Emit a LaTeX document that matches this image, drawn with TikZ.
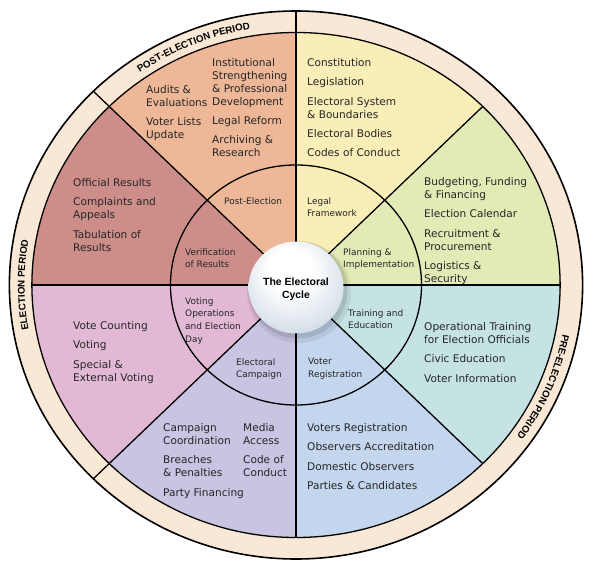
\documentclass[tikz,border=0pt]{standalone}
\usepackage{fontspec}
\setmainfont{DejaVu Sans}
\newfontfamily\arialfam{Liberation Sans}
\usetikzlibrary{decorations.text}
\definecolor{bandcol}{RGB}{250,232,214}
\definecolor{cpost}{RGB}{238,184,152}
\definecolor{cverif}{RGB}{205,142,138}
\definecolor{cvoting}{RGB}{226,185,212}
\definecolor{ccamp}{RGB}{200,196,226}
\definecolor{creg}{RGB}{196,214,238}
\definecolor{ctrain}{RGB}{198,227,227}
\definecolor{cplan}{RGB}{226,235,182}
\definecolor{clegal}{RGB}{250,238,184}
\definecolor{ballblue}{RGB}{178,196,214}
\definecolor{balledge}{RGB}{160,178,198}
\pgfdeclareradialshading{ballshade}{\pgfpoint{-4bp}{12bp}}{color(0bp)=(white); color(12bp)=(white); color(44bp)=(ballblue); color(50bp)=(balledge)}
\newcommand{\bandfmt}{\arialfam\bfseries\fontsize{9.8}{10}\selectfont}
\begin{document}
\begin{tikzpicture}[x=1bp,y=1bp,
  outertxt/.style={anchor=north west, inner sep=0pt, align=left, font=\fontsize{10.6}{13}\selectfont, text=black!85},
  innertxt/.style={anchor=north west, inner sep=0pt, align=left, font=\fontsize{9}{13}\selectfont, text=black!85},
  divline/.style={line width=1.3bp},
  ringline/.style={line width=1.3bp}
]
\useasboundingbox (-296,-283) rectangle (297,285);
\begin{scope}[xscale=1.046]
 \fill[bandcol] (0,0) circle (274);
 \fill[clegal] (0,0) -- (45:252.5) arc (45:90:252.5) -- cycle;
 \fill[cpost] (0,0) -- (90:252.5) arc (90:135:252.5) -- cycle;
 \fill[cverif] (0,0) -- (135:252.5) arc (135:180:252.5) -- cycle;
 \fill[cvoting] (0,0) -- (180:252.5) arc (180:225:252.5) -- cycle;
 \fill[ccamp] (0,0) -- (225:252.5) arc (225:270:252.5) -- cycle;
 \fill[creg] (0,0) -- (270:252.5) arc (270:315:252.5) -- cycle;
 \fill[ctrain] (0,0) -- (315:252.5) arc (315:360:252.5) -- cycle;
 \fill[cplan] (0,0) -- (0:252.5) arc (0:45:252.5) -- cycle;
 \foreach \a in {0,45,180,270,315} \draw[divline] (0,0) -- (\a:252.5);
 \foreach \a in {90,135,225} \draw[divline] (0,0) -- (\a:274);
 \draw[ringline] (0,0) circle (120);
 \draw[ringline] (0,0) circle (252.5);
 \draw[line width=1.6bp] (0,0) circle (274);
\end{scope}
% band texts
\path[decorate, decoration={text along path, text align=center, text={|\bandfmt|POST-ELECTION PERIOD}}]
  (135:271.4 and 259.5) arc [start angle=135, end angle=90, x radius=271.4, y radius=259.5];
\path[decorate, decoration={text along path, text align=center, text={|\bandfmt|ELECTION PERIOD}}]
  (225:271.4 and 259.5) arc [start angle=225, end angle=135, x radius=271.4, y radius=259.5];
\path[decorate, decoration={text along path, text align=center, text={|\bandfmt|PRE-ELECTION PERIOD}}]
  (90:271.4 and 259.5) arc [start angle=90, end angle=-135, x radius=271.4, y radius=259.5];
% centre ball
\fill[black, opacity=0.07] (3,-7) ellipse [x radius=52, y radius=51];
\fill[black, opacity=0.10] (2,-5) ellipse [x radius=49.5, y radius=48.5];
\shade[shading=ballshade] (0,-2.5) ellipse [x radius=47.5, y radius=46];
\node[font=\arialfam\bfseries\fontsize{10.5}{13}\selectfont, align=center, inner sep=0pt] (centre) at (0,-4) {The Electoral\\Cycle};
% outer texts
\node[outertxt] (pe1) at (-150,200) {Audits \&\\Evaluations\\[6.5bp]Voter Lists\\Update};
\node[outertxt] (pe2) at (-84,227) {Institutional\\Strengthening\\\& Professional\\Development\\[6.5bp]Legal Reform\\[6.5bp]Archiving \&\\Research};
\node[outertxt] (lf) at (11,227) {Constitution\\[6.5bp]Legislation\\[6.5bp]Electoral System\\\& Boundaries\\[6.5bp]Electoral Bodies\\[6.5bp]Codes of Conduct};
\node[outertxt] (pl) at (128,108) {Budgeting, Funding\\\& Financing\\[6.5bp]Election Calendar\\[6.5bp]Recruitment \&\\Procurement\\[6.5bp]Logistics \&\\Security};
\node[outertxt] (tr) at (128,-37) {Operational Training\\for Election Officials\\[6.5bp]Civic Education\\[6.5bp]Voter Information};
\node[outertxt] (vr) at (11,-138) {Voters Registration\\[6.5bp]Observers Accreditation\\[6.5bp]Domestic Observers\\[6.5bp]Parties \& Candidates};
\node[outertxt] (ec1) at (-133,-138) {Campaign\\Coordination\\[6.5bp]Breaches\\\& Penalties\\[6.5bp]Party Financing};
\node[outertxt] (ec2) at (-53,-138) {Media\\Access\\[6.5bp]Code of\\Conduct};
\node[outertxt] (vo) at (-223,-36) {Vote Counting\\[6.5bp]Voting\\[6.5bp]Special \&\\External Voting};
\node[outertxt] (vf) at (-223,107) {Official Results\\[6.5bp]Complaints and\\Appeals\\[6.5bp]Tabulation of\\Results};
% inner texts
\node[innertxt] (i1) at (-72,88) {Post-Election};
\node[innertxt] (i2) at (11,88) {Legal\\Framework};
\node[innertxt] (i3) at (47,37) {Planning \&\\Implementation};
\node[innertxt] (i4) at (52,-24) {Training and\\Education};
\node[innertxt] (i5) at (12,-73) {Voter\\Registration};
\node[innertxt] (i6) at (-60,-73) {Electoral\\Campaign};
\node[innertxt] (i7) at (-111,-12) {Voting\\Operations\\and Election\\Day};
\node[innertxt] (i8) at (-111,37) {Verification\\of Results};
\end{tikzpicture}
\end{document}
